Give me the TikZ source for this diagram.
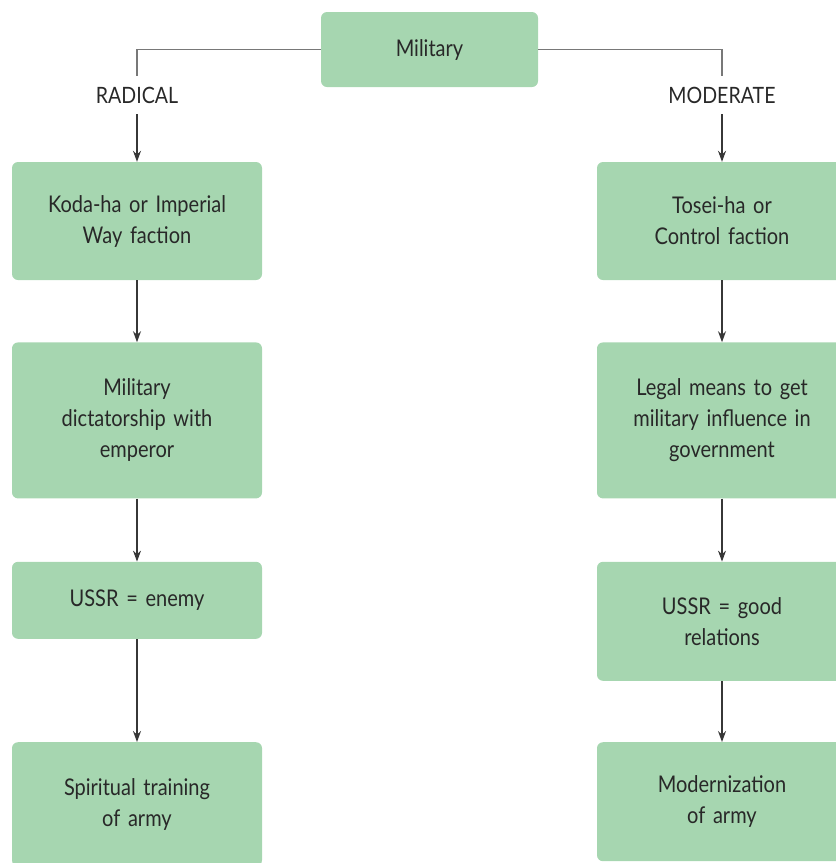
\documentclass[tikz,border=0pt]{standalone}
\usepackage{fontspec}
\setmainfont[FakeStretch=0.87, WordSpace=1.3]{Lato}
\definecolor{boxgreen}{RGB}{166,214,176}
\definecolor{textgrey}{RGB}{40,40,40}
\definecolor{linegrey}{RGB}{120,120,120}
\definecolor{arrowgrey}{RGB}{55,55,55}
\usetikzlibrary{positioning,arrows.meta}
\tikzset{
  box/.style={fill=boxgreen, rounded corners=6pt, inner sep=0pt, minimum width=250pt,
    text width=224pt, align=center, text=textgrey, font=\fontsize{23}{31}\selectfont},
  branchlabel/.style={inner xsep=2pt, inner ysep=11pt, text=textgrey, font=\fontsize{22.5}{31}\selectfont},
  branch/.style={draw=linegrey, line width=1.5pt},
  flow/.style={draw=arrowgrey, line width=1.2pt, -{Stealth[length=11pt,width=8pt]}},
}

\begin{document}
\begin{tikzpicture}[x=1pt,y=-1pt]
  \useasboundingbox (0,0) rectangle (836,863);

  \node [box, minimum width=217pt, text width=200pt, minimum height=75pt] (military) at (429.5,49.5) {Military};

  % radical side
  \node [branchlabel] (radical) at (137,95) {RADICAL};
  \node [box, minimum height=118pt] (koda) at (137,221) {Koda-ha or Imperial\\Way faction};
  \node [box, minimum height=156pt, below=62pt of koda] (dictatorship) {Military\\dictatorship with\\emperor};
  \node [box, minimum height=77pt, below=63pt of dictatorship] (enemy) {USSR = enemy};
  \node [box, minimum height=124pt, below=103pt of enemy] (spiritual) {Spiritual training\\of army};

  % moderate side
  \node [branchlabel] (moderate) at (722,95) {MODERATE};
  \node [box, minimum height=118pt] (tosei) at (722,221) {Tosei-ha or\\Control faction};
  \node [box, minimum height=156pt, below=62pt of tosei] (legal) {Legal means to get\\military influence in\\government};
  \node [box, minimum height=119pt, below=63pt of legal] (relations) {USSR = good\\relations};
  \node [box, minimum height=119pt, below=61pt of relations] (modern) {Modernization\\of army};

  \draw [branch] (military.west) -| (radical.north);
  \draw [branch] (military.east) -| (moderate.north);

  \draw [flow] (radical) -- (koda);
  \draw [flow] (koda) -- (dictatorship);
  \draw [flow] (dictatorship) -- (enemy);
  \draw [flow] (enemy) -- (spiritual);

  \draw [flow] (moderate) -- (tosei);
  \draw [flow] (tosei) -- (legal);
  \draw [flow] (legal) -- (relations);
  \draw [flow] (relations) -- (modern);
\end{tikzpicture}
\end{document}
